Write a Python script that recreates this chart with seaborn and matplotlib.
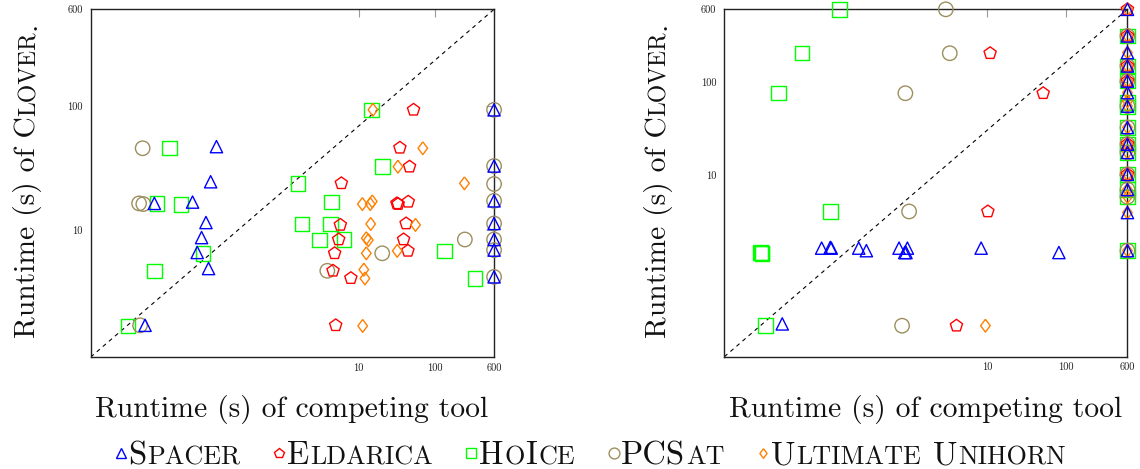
import matplotlib
matplotlib.use("Agg")
import matplotlib.pyplot as plt
import seaborn as sns
from matplotlib.lines import Line2D
from matplotlib.transforms import IdentityTransform
from matplotlib.ticker import NullLocator

# ---- data: left panel (runtime of competing tool, runtime of Clover) ----
spacer_l_x = [0.136, 0.114, 0.066, 0.0208, 0.099, 0.0867, 0.076, 0.107, 0.0157,
              600, 600, 600, 600, 600, 600, 600]
spacer_l_y = [47, 24.5, 16.8, 16.4, 11.5, 8.7, 6.6, 4.9, 1.71,
              93, 32.8, 17.2, 11.3, 8.4, 6.9, 4.2]

eldarica_l_x = [52.6, 34.8, 46.6, 5.93, 31.8, 33, 44.8, 5.75, 42, 5.47, 38.9,
                4.84, 44.4, 4.61, 7.9, 5.0]
eldarica_l_y = [93, 46, 32.4, 23.8, 16.4, 16.2, 16.9, 11, 11.3, 8.4, 8.4,
                6.5, 6.8, 4.7, 4.1, 1.71]

hoice_l_x = [14.7, 0.0327, 20.7, 1.6, 4.43, 0.0225, 0.0465, 1.79, 4.26, 3.08,
             6.43, 0.091, 134, 0.0208, 335, 0.0093]
hoice_l_y = [93, 45.6, 32.4, 23.8, 16.8, 16.4, 16.1, 11.2, 11.2, 8.3,
             8.4, 6.5, 6.8, 4.7, 4.08, 1.69]

pcsat_l_x = [0.0146, 0.0131, 0.0149, 3.88, 20.4, 248, 0.0135,
             600, 600, 600, 600, 600, 600, 600, 600]
pcsat_l_y = [45.6, 16.4, 16.2, 4.7, 6.5, 8.4, 1.71,
             93, 32.8, 23.5, 17.2, 11.3, 8.4, 6.9, 4.2]

ultimate_l_x = [15.4, 69.6, 32.8, 245, 11.2, 14.2, 15.1, 14.4, 55.8, 12.6,
                13.4, 12.6, 32.1, 11.7, 12.1, 11.3]
ultimate_l_y = [93, 45.6, 32.4, 23.8, 16.2, 16.2, 17, 11.2, 11, 8.6,
                8.3, 6.5, 6.8, 4.8, 4.08, 1.69]

# ---- data: right panel ----
spacer_r_x = [0.0259, 0.0815, 0.105, 0.108, 0.24, 0.3, 0.776, 0.99, 0.916, 0.95,
              8.47, 81.5,
              600, 600, 600, 600, 600, 600, 600, 600, 600, 600, 600, 600, 600, 600]
spacer_r_y = [0.254, 1.65, 1.68, 1.65, 1.65, 1.55, 1.65, 1.65, 1.48, 1.48,
              1.65, 1.48,
              600, 311, 206, 148, 102, 76.7, 55, 32.4, 21.5, 17.5, 10.2, 7.0, 3.97, 1.55]

eldarica_r_x = [11, 51.6, 10.3, 4.13, 600, 600, 600, 600, 600, 600]
eldarica_r_y = [203, 75.6, 4.08, 0.243, 600, 311, 148, 102, 21.5, 10.2]

hoice_r_x = [0.138, 0.046, 0.0233, 0.106, 0.0137, 0.0141, 0.0144, 0.016,
             600, 600, 600, 600, 600, 600, 600, 600, 600, 600, 600, 600]
hoice_r_y = [600, 203, 75.6, 4.08, 1.48, 1.46, 1.44, 0.243,
             311, 148, 102, 54, 60, 32.4, 21.5, 17.5, 10.2, 7.0, 5.85, 1.55]

pcsat_r_x = [3.03, 3.4, 0.933, 1.04, 0.848,
             600, 600, 600, 600, 600, 600, 600, 600, 600, 600, 600]
pcsat_r_y = [600, 203, 75.6, 4.08, 0.243,
             311, 148, 102, 55, 32.4, 21.5, 17.5, 10.2, 7.0, 5.85, 1.55]

ultimate_r_x = [9.6, 600, 600, 600, 600, 600, 600, 600, 600, 600, 600, 600, 600,
                600, 600, 600, 600]
ultimate_r_y = [0.243, 600, 311, 206, 148, 102, 76.7, 55, 62, 32.4, 21.5, 17.5,
                10.2, 7.0, 5.85, 3.97, 1.55]

tools = ["Spacer", "Eldarica", "HoIce", "PCSat", "Ultimate Unihorn"]
left = {"Spacer": (spacer_l_x, spacer_l_y), "Eldarica": (eldarica_l_x, eldarica_l_y),
        "HoIce": (hoice_l_x, hoice_l_y), "PCSat": (pcsat_l_x, pcsat_l_y),
        "Ultimate Unihorn": (ultimate_l_x, ultimate_l_y)}
right = {"Spacer": (spacer_r_x, spacer_r_y), "Eldarica": (eldarica_r_x, eldarica_r_y),
         "HoIce": (hoice_r_x, hoice_r_y), "PCSat": (pcsat_r_x, pcsat_r_y),
         "Ultimate Unihorn": (ultimate_r_x, ultimate_r_y)}

diamond = [(0, 1), (0.75, 0), (0, -1), (-0.75, 0), (0, 1)]
colors = {"Spacer": "#0000ff", "Eldarica": "#ff0000", "HoIce": "#00ff00",
          "PCSat": "#9c8f5e", "Ultimate Unihorn": "#ff8000"}
markers = {"Spacer": "^", "Eldarica": "p", "HoIce": "s", "PCSat": "o",
           "Ultimate Unihorn": diamond}
sizes = {"Spacer": 78, "Eldarica": 85, "HoIce": 108, "PCSat": 108,
         "Ultimate Unihorn": 85}
zorders = {"HoIce": 3, "PCSat": 4, "Eldarica": 5, "Ultimate Unihorn": 6, "Spacer": 7}

sns.set_theme(style="white")
plt.rcParams["font.family"] = ["cmr10", "DejaVu Serif"]
plt.rcParams["axes.unicode_minus"] = False

fig = plt.figure(figsize=(11.4, 4.69), dpi=100)
ax1 = fig.add_axes([0.0796, 0.2388, 0.3538, 0.7414])
ax2 = fig.add_axes([0.6354, 0.2394, 0.3536, 0.7407])

for ax, data, xlim, ylim in [(ax1, left, (0.00304, 600), (0.95, 600)),
                             (ax2, right, (0.0048, 600), (0.113, 600))]:
    ax.set_xscale("log")
    ax.set_yscale("log")
    for tool in ["HoIce", "PCSat", "Eldarica", "Ultimate Unihorn", "Spacer"]:
        xs, ys = data[tool]
        c = colors[tool]
        sns.scatterplot(x=xs, y=ys, ax=ax, marker=markers[tool], s=sizes[tool],
                        color=c, facecolor="none", edgecolor=c, linewidth=1.0,
                        zorder=zorders[tool], clip_on=False, legend=False)
    ax.plot([0, 1], [0, 1], transform=ax.transAxes, color="black", lw=0.8,
            linestyle=(0, (3.6, 3.6)), zorder=2)
    ax.set_xlim(*xlim)
    ax.set_ylim(*ylim)
    ax.set_xticks([10, 100, 600])
    ax.set_xticklabels(["10", "100", "600"])
    ax.set_yticks([10, 100, 600])
    ax.set_yticklabels(["10", "100", "600"])
    ax.xaxis.set_minor_locator(NullLocator())
    ax.yaxis.set_minor_locator(NullLocator())
    ax.tick_params(direction="in", length=6, width=0.8, color="#9a9a9a",
                   top=True, right=True, labelsize=7.5, labelcolor="#222222")
    ax.tick_params(axis="x", pad=4.5)
    ax.tick_params(axis="y", pad=5.8)
    for sp in ax.spines.values():
        sp.set_color("#222222")
        sp.set_linewidth(1.0)
    ax.set_xlabel("")
    ax.set_ylabel("")

# ---- text in small caps, built from pieces ----
FS = 21.3
FS_LEG = 23.5
SC = 0.8
JOIN = 1.0


def smallcaps(label):
    parts = []
    for ch in label:
        if ch == " ":
            parts.append((" ", False))
            continue
        small = ch.islower()
        if parts and parts[-1][0] != " " and parts[-1][1] == small:
            parts[-1] = (parts[-1][0] + ch.upper(), small)
        else:
            parts.append((ch.upper(), small))
    return parts


def make_pieces(parts, size, rot=0):
    r = fig.canvas.get_renderer()
    items = []
    for s, small in parts:
        if s == " ":
            items.append((None, size * 0.333 * fig.dpi / 72))
            continue
        t = fig.text(0, 0, s, fontsize=size * SC if small else size, rotation=rot,
                     rotation_mode="anchor", ha="left", va="baseline",
                     color="#111111", transform=IdentityTransform())
        bb = t.get_window_extent(r)
        items.append((t, (bb.height if rot else bb.width) + JOIN))
    return items


def place_pieces(items, start, other, rot=0):
    pos = start
    for t, w in items:
        if t is not None:
            t.set_position((other, pos) if rot else (pos, other))
        pos += w


H = 469
for ax, base_x in [(ax1, 35.5), (ax2, 666)]:
    bb = ax.get_position()
    cx = (bb.x0 + bb.x1) / 2 * 1140
    items = make_pieces([("Runtime (s) of competing tool", False)], FS)
    tw = sum(w for _, w in items)
    place_pieces(items, cx - tw / 2, H - 416.7)
    items = make_pieces([("Runtime (s) of C", False), ("LOVER", True), (".", False)],
                        FS, rot=90)
    tw = sum(w for _, w in items)
    place_pieces(items, (H - 179.5) - tw / 2, base_x, rot=90)

# legend row
MK_W = 11
GAP = 32
entries = []
total = 0
for tool in tools:
    items = make_pieces(smallcaps(tool), FS_LEG)
    tw = sum(w for _, w in items)
    entries.append((tool, items, tw))
    total += MK_W + 2 + tw
total += GAP * (len(tools) - 1)
x = 591 - total / 2
for tool, items, tw in entries:
    fig.add_artist(Line2D([x + MK_W / 2], [H - 453], transform=IdentityTransform(),
                          marker=markers[tool], markersize=0.75 * sizes[tool] ** 0.5,
                          mfc="none", mec=colors[tool], mew=1.0, linestyle="none"))
    place_pieces(items, x + MK_W + 2, H - 464)
    x += MK_W + 2 + tw + GAP

fig.savefig("out.png", dpi=100)
